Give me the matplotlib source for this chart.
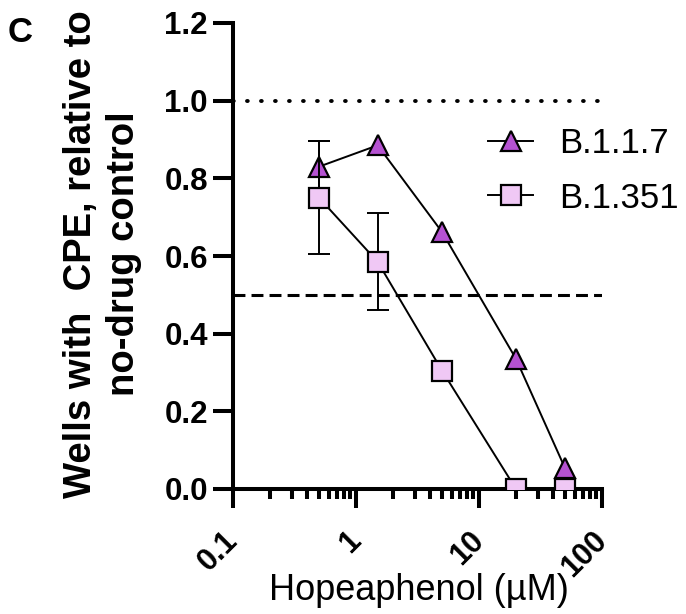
import matplotlib
matplotlib.use("Agg")
import matplotlib.pyplot as plt
import matplotlib.transforms as mtransforms
import numpy as np

plt.rcParams['font.family'] = ['Liberation Sans', 'DejaVu Sans']

conc = [0.5, 1.5, 5, 20, 50]
b117 = [0.83, 0.885, 0.662, 0.335, 0.054]
b117_err = [0.065, 0.0, 0.0, 0.0, 0.0]
b1351 = [0.75, 0.585, 0.305, 0.0, 0.0]
b1351_err = [0.145, 0.125, 0.012, 0.0, 0.0]
series_names = ["B.1.1.7", "B.1.351"]
yticks = [0.0, 0.2, 0.4, 0.6, 0.8, 1.0, 1.2]
yticklabels = ["0.0", "0.2", "0.4", "0.6", "0.8", "1.0", "1.2"]
xticks = [0.1, 1, 10, 100]
xticklabels = ["0.1", "1", "10", "100"]

fig = plt.figure(figsize=(6.86, 6.14), dpi=100)
ax = fig.add_axes([233/686, 1-489/614, (602-233)/686, (489-23)/614])

ax.axhline(1.0, color='black', lw=2.8, ls=(0, (0.2, 3.4)), dash_capstyle='round', zorder=1)
ax.axhline(0.5, color='black', lw=2.2, ls=(0, (3.9, 2.0)), zorder=1)

tri_color = '#B552D1'
sq_color = '#F0C8F5'

styles = [
    dict(marker='^', markersize=15, markerfacecolor=tri_color),
    dict(marker='s', markersize=14, markerfacecolor=sq_color),
]
handles = []
for i, (yv, ev) in enumerate([(b117, b117_err), (b1351, b1351_err)]):
    x = np.array(conc)
    y = np.array(yv)
    e = np.array(ev)
    m = e > 0
    ax.errorbar(x[m], y[m], yerr=e[m], fmt='none', ecolor='black', elinewidth=1.4,
                capsize=8, capthick=1.4, zorder=2 + 2 * i)
    ln, = ax.plot(x, y, color='black', lw=1.4, markeredgecolor='black',
                  markeredgewidth=1.6, zorder=3 + 2 * i, label=series_names[i], **styles[i])
    handles.append(ln)

ax.set_xscale('log')
ax.set_xlim(0.1, 100)
ax.set_ylim(0, 1.2)
ax.set_yticks(yticks)
ax.set_yticklabels(yticklabels, fontsize=22.5, fontweight='bold')
ax.set_xticks(xticks)
ax.set_xticklabels(xticklabels, fontsize=22, fontweight='bold', rotation=45,
                   ha='right', va='top', rotation_mode='anchor')
ax.xaxis.set_minor_locator(matplotlib.ticker.LogLocator(base=10, subs=np.arange(2, 10)))
ax.xaxis.set_minor_formatter(matplotlib.ticker.NullFormatter())

for s in ['top', 'right']:
    ax.spines[s].set_visible(False)
for s in ['left', 'bottom']:
    ax.spines[s].set_linewidth(2.9)
ax.tick_params(axis='y', direction='out', length=14.4, width=2.9, pad=3.6)
ax.tick_params(axis='x', which='major', direction='out', length=13.7, width=2.9, pad=13)
ax.tick_params(axis='x', which='minor', direction='out', length=7.2, width=2.9)

offset = mtransforms.ScaledTranslation(-10/100, 0, fig.dpi_scale_trans)
for lbl in ax.xaxis.get_majorticklabels():
    lbl.set_transform(lbl.get_transform() + offset)

ax.set_xlabel("Hopeaphenol (\u00b5M)", fontsize=26, va='baseline')
ax.xaxis.set_label_coords((419 - 233) / 369, -(600 - 489) / 466)

fig.text(103/686, 1-254/614, "Wells with  CPE, relative to\nno-drug control", rotation=90,
         ha='center', va='center', multialignment='center', fontsize=27.5, fontweight='bold',
         linespacing=1.25)
fig.text(8/686, 1-33/614, "C", fontsize=25, fontweight='bold', ha='left', va='center')

leg = ax.legend(handles=handles, loc='upper left', bbox_to_anchor=(488/686, 1-127/614),
                bbox_transform=fig.transFigure, frameon=False, fontsize=25,
                handlelength=1.3, handletextpad=0.75, labelspacing=0.62,
                borderpad=0, borderaxespad=0)

fig.savefig("out.png", dpi=100)
